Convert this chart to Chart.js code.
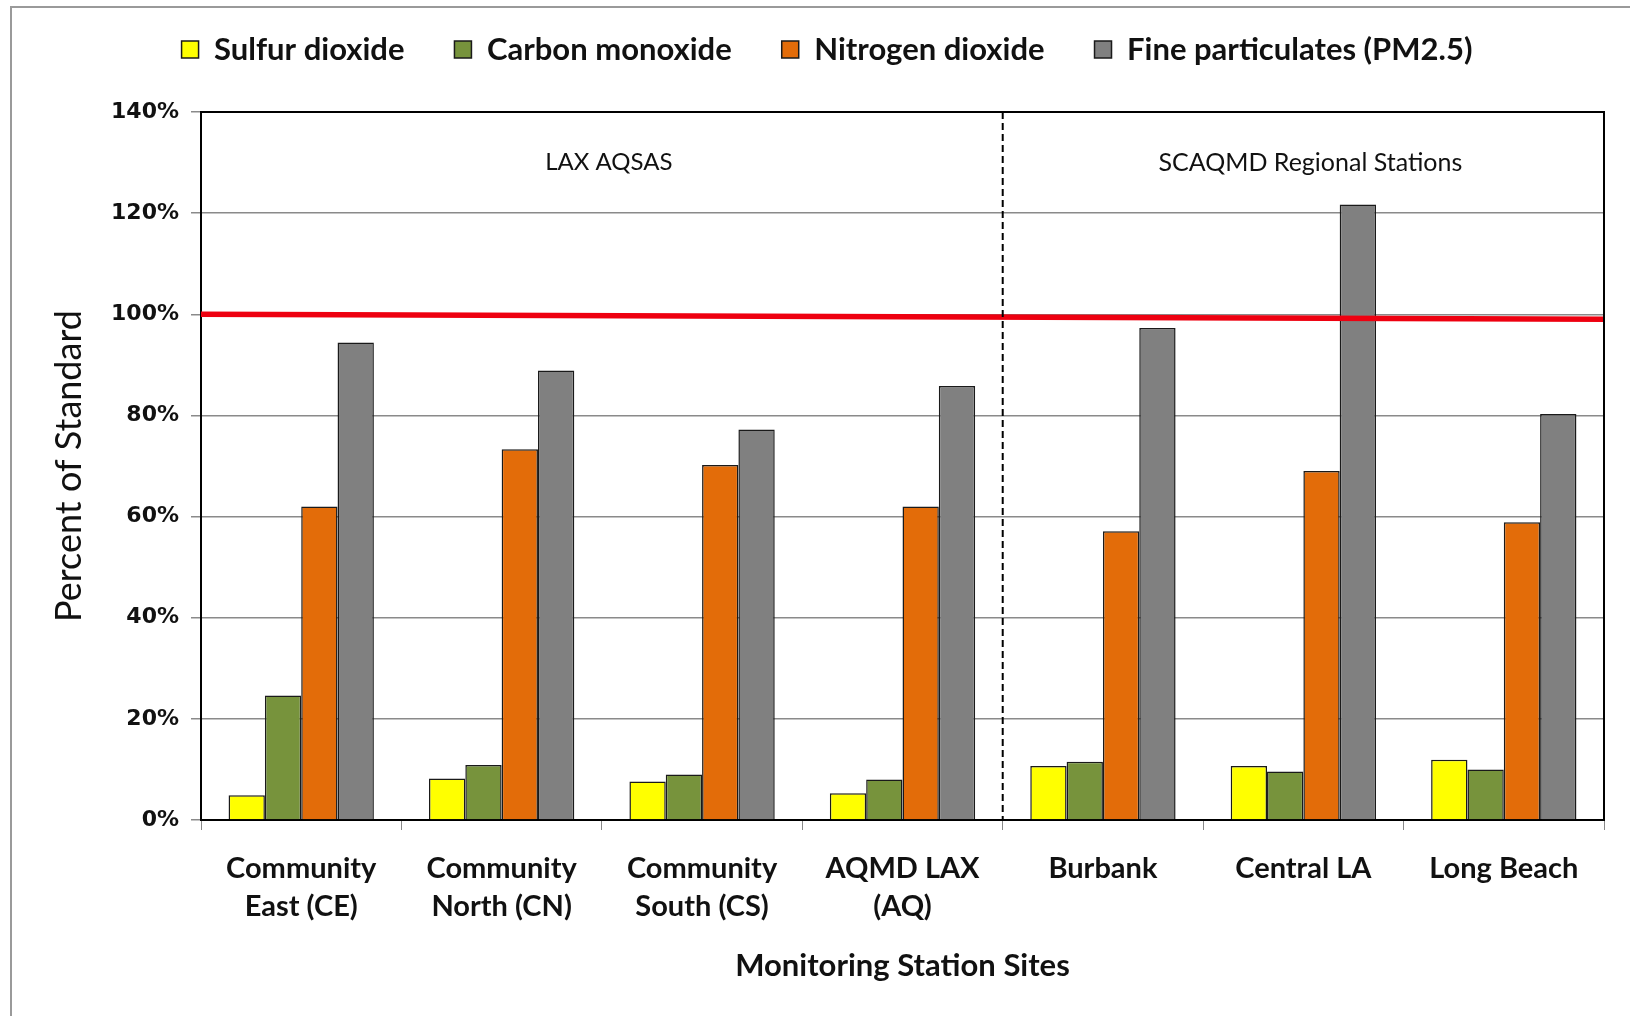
<!DOCTYPE html>
<html>
<head>
<meta charset="utf-8">
<script src="https://cdn.jsdelivr.net/npm/chart.js@4.4.1/dist/chart.umd.min.js"></script>
<style>
  html, body { margin: 0; padding: 0; background: #fff; }
  #wrap { width: 1630px; height: 1016px; position: relative; }
</style>
</head>
<body>
<div id="wrap"><canvas id="c" width="1630" height="1016"></canvas></div>
<script>
const categories = [
  ["Community", "East (CE)"],
  ["Community", "North (CN)"],
  ["Community", "South (CS)"],
  ["AQMD LAX", "(AQ)"],
  "Burbank",
  "Central LA",
  "Long Beach"
];
const seriesNames = ["Sulfur dioxide", "Carbon monoxide", "Nitrogen dioxide", "Fine particulates (PM2.5)"];
const sulfurDioxide     = [4.9, 8.2, 7.6, 5.3, 10.7, 10.7, 11.9];
const carbonMonoxide    = [24.6, 10.9, 9.0, 8.0, 11.5, 9.6, 10.0];
const nitrogenDioxide   = [62.0, 73.3, 70.2, 62.0, 57.1, 69.0, 58.9];
const fineParticulates  = [94.4, 88.9, 77.2, 85.8, 97.3, 121.7, 80.3];
const yTicks = [0, 20, 40, 60, 80, 100, 120, 140];
const standardLine = [100, 99];          // red standard line, left end / right end (%)
const groupLabels = ["LAX AQSAS", "SCAQMD Regional Stations"];
const groupSpans = [[0, 3], [4, 6]];     // category index ranges for each group
const groupLabelValue = 130;             // y value (%) where group labels sit
const dividerAfterIndex = 3;             // dashed divider between index 3 and 4

const colors = ["#FFFF00", "#77933C", "#E36C09", "#808080"];
const seriesValues = [sulfurDioxide, carbonMonoxide, nitrogenDioxide, fineParticulates];

const TXT = "Lato, 'Open Sans', sans-serif";
const PAD_TOP = -16;

const layoutPlugin = {
  id: 'layoutFix',
  beforeLayout(chart) {
    const lg = chart.legend;
    if (lg && !lg._patched) {
      const f = lg.fit;
      lg.fit = function () { f.call(this); this.height = 112 - PAD_TOP; };
      lg._patched = true;
    }
  }
};

const decorPlugin = {
  id: 'decor',
  beforeDraw(chart) {
    const ctx = chart.ctx;
    ctx.save();
    ctx.fillStyle = '#fff';
    ctx.fillRect(0, 0, chart.width, chart.height);
    ctx.strokeStyle = '#9a9a9a';
    ctx.lineWidth = 2;
    ctx.strokeRect(11, 7, chart.width + 50, chart.height + 50);
    ctx.restore();
  },
  afterDatasetsDraw(chart) {
    const ctx = chart.ctx;
    const x = chart.scales.x, y = chart.scales.y;
    const a = chart.chartArea;
    ctx.save();
    // standard line
    ctx.strokeStyle = '#EE0010';
    ctx.lineWidth = 5.5;
    ctx.beginPath();
    ctx.moveTo(a.left, y.getPixelForValue(standardLine[0]));
    ctx.lineTo(a.right, y.getPixelForValue(standardLine[1]));
    ctx.stroke();
    // dashed divider
    const xd = (x.getPixelForValue(dividerAfterIndex) + x.getPixelForValue(dividerAfterIndex + 1)) / 2;
    ctx.strokeStyle = '#000';
    ctx.lineWidth = 2;
    ctx.setLineDash([7, 4]);
    ctx.beginPath();
    ctx.moveTo(xd, a.top);
    ctx.lineTo(xd, a.bottom);
    ctx.stroke();
    ctx.setLineDash([]);
    // frame top/right
    ctx.lineWidth = 2;
    ctx.beginPath();
    ctx.moveTo(a.left, a.top);
    ctx.lineTo(a.right, a.top);
    ctx.lineTo(a.right, a.bottom);
    ctx.stroke();
    // group labels
    ctx.fillStyle = '#111';
    ctx.textAlign = 'center';
    ctx.textBaseline = 'middle';
    const sizes = [24, 25];
    groupLabels.forEach((t, i) => {
      ctx.font = sizes[i] + "px " + TXT;
      const cx = (x.getPixelForValue(groupSpans[i][0]) + x.getPixelForValue(groupSpans[i][1])) / 2;
      ctx.fillText(t, cx + 7, y.getPixelForValue(groupLabelValue));
    });
    ctx.restore();
  }
};

new Chart(document.getElementById('c'), {
  type: 'bar',
  data: {
    labels: categories,
    datasets: seriesNames.map((n, i) => ({
      label: n,
      data: seriesValues[i],
      backgroundColor: colors[i],
      borderColor: '#1a1a1a',
      borderWidth: 1.5,
      barPercentage: 1.0,
      categoryPercentage: 0.725
    }))
  },
  options: {
    responsive: false,
    animation: false,
    devicePixelRatio: 1,
    layout: { padding: { top: PAD_TOP, left: 50, right: 26, bottom: 0 } },
    plugins: {
      tooltip: { enabled: false },
      legend: {
        position: 'top',
        labels: {
          boxWidth: 17,
          boxHeight: 17,
          padding: 50,
          color: '#111',
          font: { family: TXT, size: 31, weight: 'bold' }
        }
      }
    },
    scales: {
      x: {
        afterFit(s) { s.height = 196; },
        grid: { display: true, drawOnChartArea: false, drawTicks: true, tickLength: 10, color: '#888', offset: true },
        border: { display: true, color: '#000', width: 2 },
        ticks: {
          color: '#111',
          padding: 20,
          font: { family: TXT, size: 29, weight: 'bold', lineHeight: 1.31 }
        },
        title: {
          display: true,
          text: 'Monitoring Station Sites',
          color: '#111',
          font: { family: TXT, size: 31, weight: 'bold' },
          padding: { top: 0, bottom: 31 }
        }
      },
      y: {
        min: 0,
        max: 140,
        afterFit(s) { s.width = 151; },
        afterBuildTicks(s) { s.ticks = yTicks.map(v => ({ value: v })); },
        grid: { color: '#8a8a8a', lineWidth: 1.5, tickLength: 10, drawTicks: true },
        border: { display: true, color: '#000', width: 2 },
        ticks: {
          color: '#111',
          padding: 12,
          font: { family: "'DejaVu Sans', Verdana, sans-serif", size: 22, weight: 'bold' },
          callback: v => v + '%'
        },
        title: {
          display: true,
          text: 'Percent of Standard',
          color: '#111',
          font: { family: TXT, size: 36, weight: 'normal' },
          padding: { top: -2, bottom: 0 }
        }
      }
    }
  },
  plugins: [layoutPlugin, decorPlugin]
});
</script>
</body>
</html>
